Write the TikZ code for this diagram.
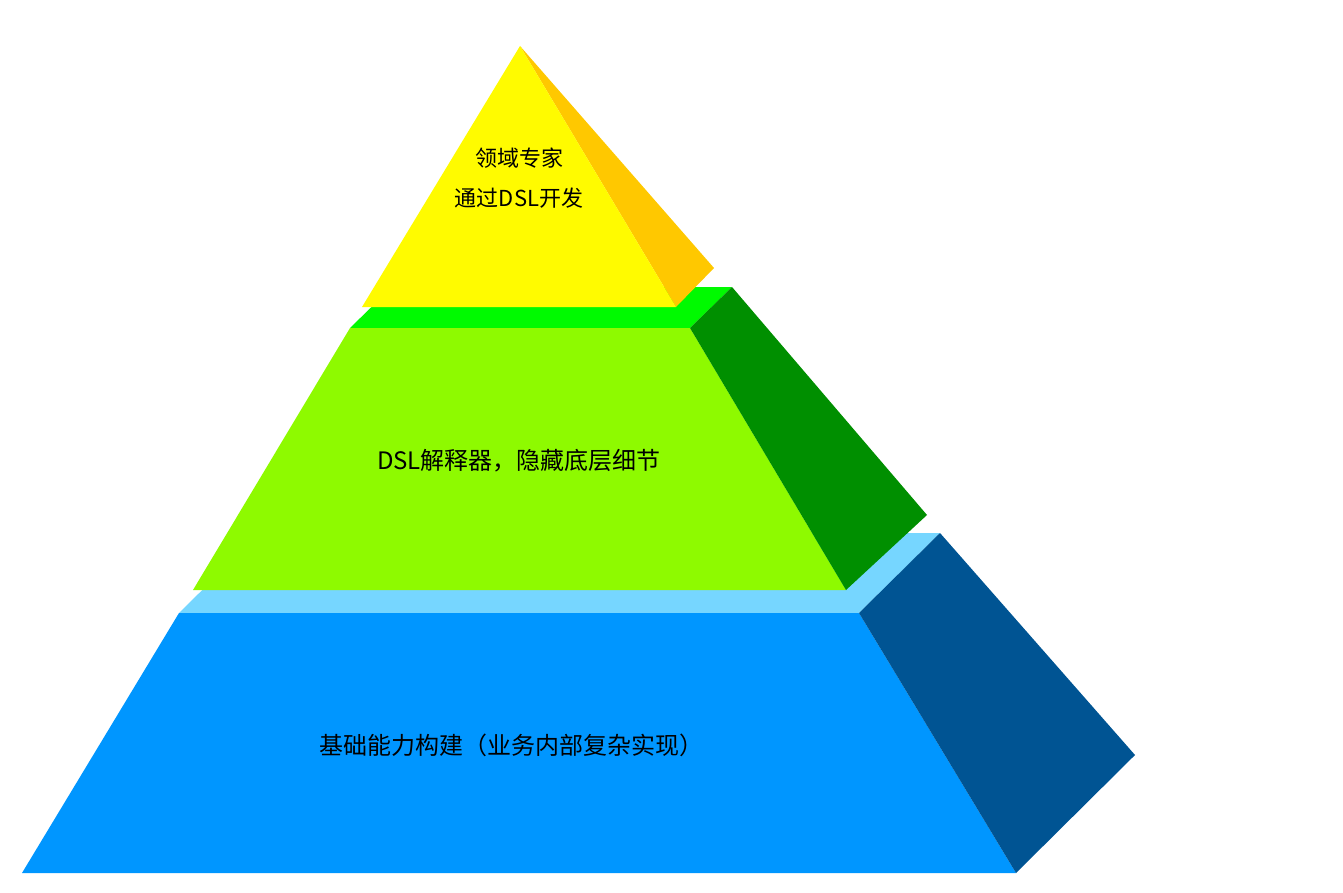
\documentclass[tikz,border=0pt]{standalone}
\usepackage{fontspec}
\setmainfont{Noto Sans CJK SC}
\begin{document}
\begin{tikzpicture}[x=1pt,y=-1pt,face/.style={draw=none},lbl/.style={font=\fontsize{24}{30}\selectfont,align=center}]
\useasboundingbox (0,0) rectangle (1343,893);
% bottom
\fill[color={rgb,255:red,118;green,214;blue,255}] (179,613) -- (859,613) -- (940,533) -- (260,533) -- cycle;
\fill[color={rgb,255:red,0;green,150;blue,255}] (179,613) -- (859,613) -- (1016,873) -- (22,873) -- cycle;
\fill[color={rgb,255:red,0;green,84;blue,147}] (859,613) -- (940,533) -- (1135,755) -- (1016,873) -- cycle;
% middle
\fill[color={rgb,255:red,0;green,250;blue,0}] (350,328) -- (690,328) -- (732,287) -- (392,287) -- cycle;
\fill[color={rgb,255:red,142;green,250;blue,0}] (350,328) -- (690,328) -- (846,590) -- (193,590) -- cycle;
\fill[color={rgb,255:red,0;green,143;blue,0}] (690,328) -- (732,287) -- (927,515) -- (846,590) -- cycle;
% top
\fill[color={rgb,255:red,255;green,200;blue,0}] (520,46) -- (714,268) -- (676,307) -- cycle;
\fill[color={rgb,255:red,255;green,251;blue,0}] (520,46) -- (676,307) -- (362,307) -- cycle;
\node[lbl,font=\fontsize{22}{40}\selectfont] (t) at (519,178) {领域专家\\通过DSL开发};
\node[lbl] (m) at (519,461) {DSL解释器，隐藏底层细节};
\node[lbl] (b) at (511,745) {基础能力构建（业务内部复杂实现）};
\end{tikzpicture}
\end{document}
